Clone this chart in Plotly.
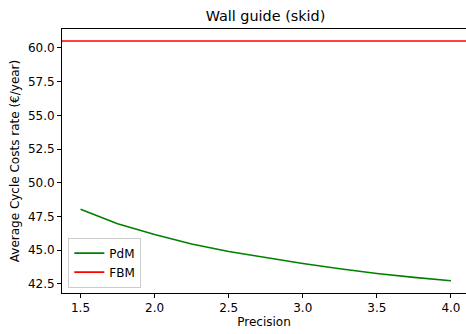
import plotly.graph_objects as go

precision = [1.5, 1.75, 2.0, 2.25, 2.5, 2.75, 3.0, 3.25, 3.5, 3.75, 4.0]
pdm_cost = [48.03, 46.95, 46.15, 45.45, 44.89, 44.42, 44.0, 43.61, 43.26, 42.97, 42.72]
fbm_cost = 60.52
x_ticks = [1.5, 2.0, 2.5, 3.0, 3.5, 4.0]
y_ticks = [42.5, 45.0, 47.5, 50.0, 52.5, 55.0, 57.5, 60.0]

FONT = "DejaVu Sans"

fig = go.Figure()
fig.add_trace(go.Scatter(x=precision, y=pdm_cost, mode="lines", name="PdM",
                         line=dict(color="green", width=1.6)))
fig.add_trace(go.Scatter(x=[1.375, 4.125], y=[fbm_cost, fbm_cost], mode="lines", name="FBM",
                         line=dict(color="red", width=1.6)))

fig.update_layout(
    width=466, height=334,
    margin=dict(l=62, r=0, t=29, b=41),
    paper_bgcolor="white", plot_bgcolor="white",
    font=dict(family=FONT, size=12, color="black"),
    title=dict(text="Wall guide (skid)", x=265.5/466, xanchor="center",
               y=1 - 16/334, yanchor="middle", font=dict(size=14.4, family=FONT)),
    showlegend=True,
    legend=dict(x=0.0156, y=0.0205, xanchor="left", yanchor="bottom",
                bgcolor="rgba(255,255,255,0.8)", bordercolor="#cccccc", borderwidth=1,
                font=dict(size=12, family=FONT), tracegroupgap=0,
                itemwidth=30),
    xaxis=dict(range=[1.375, 1.5 + (466 - 80.7) / 148.1], tickvals=x_ticks,
               tickformat=".1f", ticks="outside", ticklen=4, tickcolor="black",
               showline=True, linecolor="black", linewidth=1, mirror=True,
               showgrid=False, zeroline=False,
               title=dict(text="Precision", font=dict(size=12), standoff=3)),
    yaxis=dict(range=[41.81, 61.41], tickvals=y_ticks, tickformat=".1f",
               ticks="outside", ticklen=4, tickcolor="black",
               showline=True, linecolor="black", linewidth=1,
               showgrid=False, zeroline=False,
               title=dict(text="Average Cycle Costs rate (€/year)", font=dict(size=12), standoff=5)),
)

fig.write_html("out.html")
